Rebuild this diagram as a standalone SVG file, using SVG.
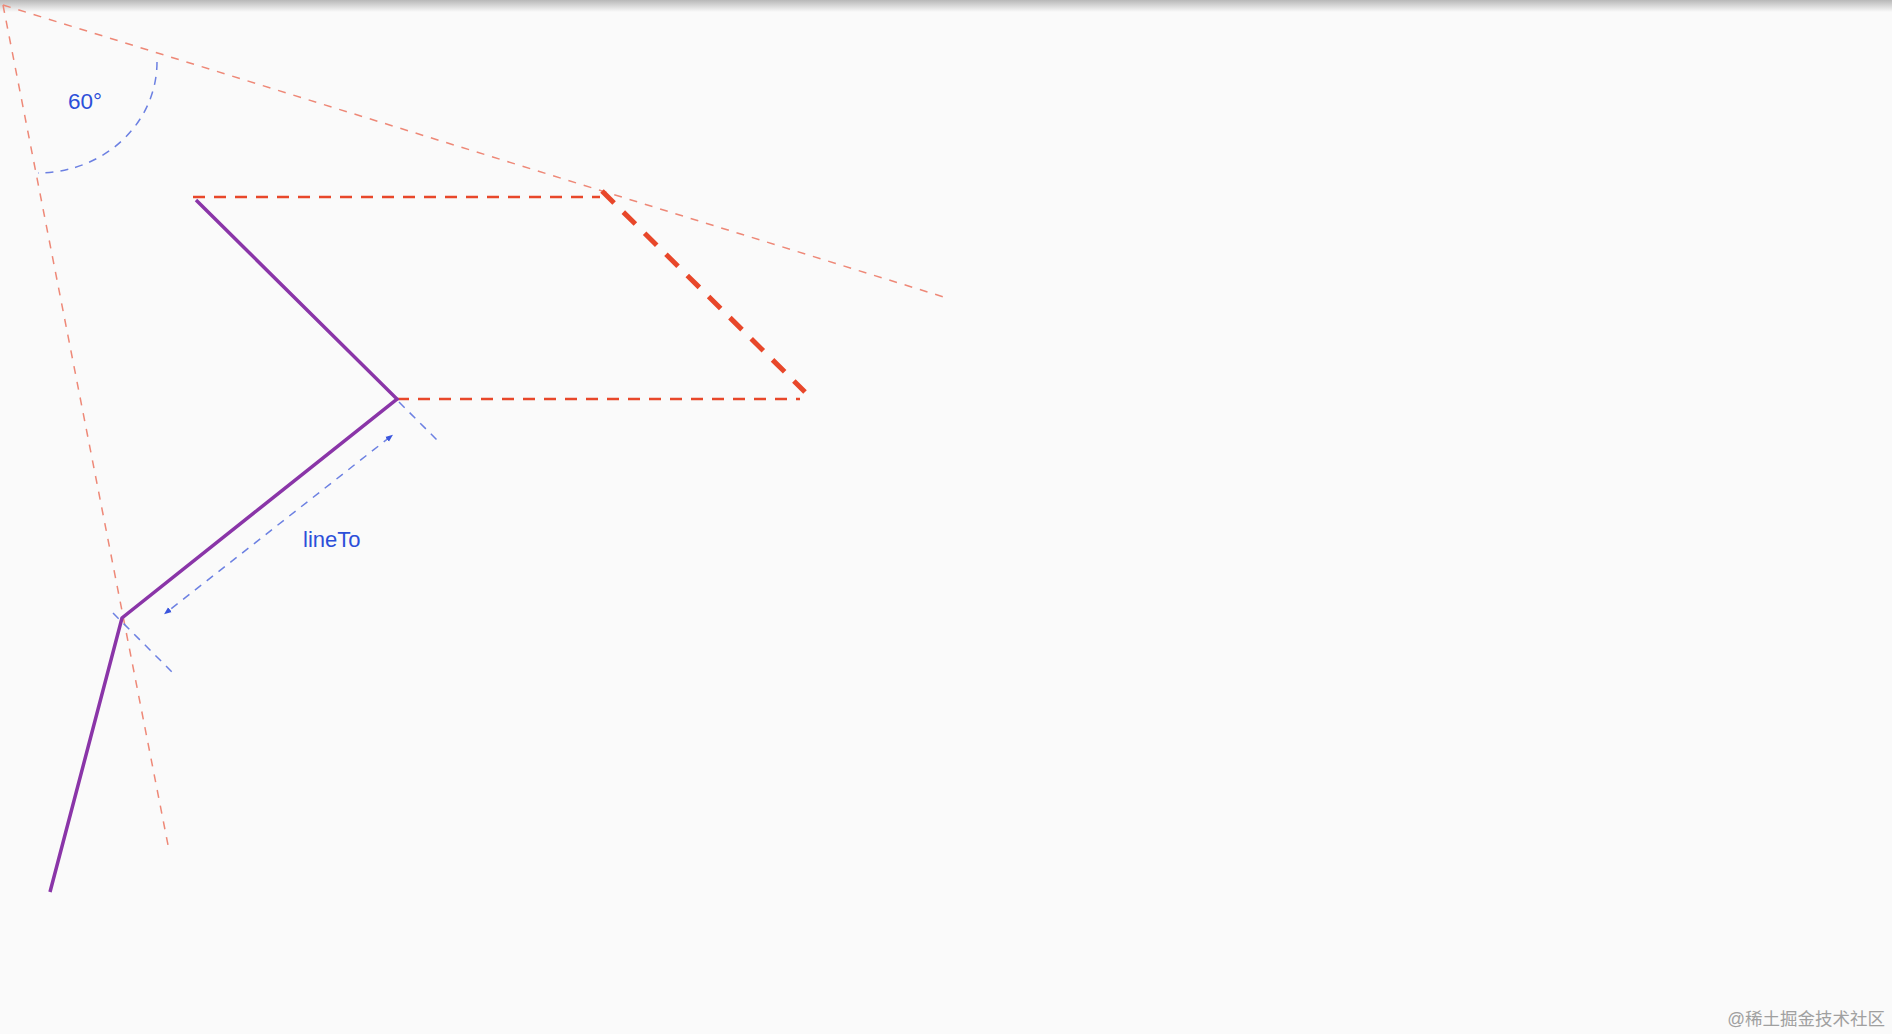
<svg xmlns="http://www.w3.org/2000/svg" width="1892" height="1034" viewBox="0 0 1892 1034">
<defs>
<linearGradient id="shade" x1="0" y1="0" x2="0" y2="1">
<stop offset="0" stop-color="#b8b8b8"/>
<stop offset="1" stop-color="#fafafa"/>
</linearGradient>
<marker id="ah" viewBox="0 0 10 10" refX="5" refY="5" markerWidth="5" markerHeight="5" orient="auto-start-reverse">
<path d="M0,1 L10,5 L0,9 z" fill="#3a55dd"/>
</marker>
<style>
.guide{fill:none;stroke:#ee8877;stroke-width:1.5;stroke-dasharray:8 8}
.red{fill:none;stroke:#e8472a;stroke-width:2.6;stroke-dasharray:12 9}
.redthick{fill:none;stroke:#e8472a;stroke-width:5;stroke-dasharray:17 13}
.blue{fill:none;stroke:#6c80e2;stroke-width:1.5;stroke-dasharray:8 7}
.path{fill:none;stroke:#8a35a8;stroke-width:3.5;stroke-linejoin:miter}
.lbl{font-family:"Liberation Sans",Arial,sans-serif;fill:#2c4fd9}
</style>
</defs>
<rect width="1892" height="1034" fill="#fafafa"/>
<rect width="1892" height="12" fill="url(#shade)"/>
<g id="guides">
<line class="guide" x1="3" y1="5" x2="947" y2="298"/>
<line class="guide" x1="3" y1="5" x2="168" y2="845"/>
<path class="blue" d="M157,62 A119,111 0 0 1 38,173"/>
</g>
<g id="construction">
<line class="red" x1="193" y1="197" x2="600" y2="197"/>
<line class="red" x1="397" y1="399" x2="800" y2="399"/>
<line class="redthick" x1="602" y1="191" x2="805" y2="392"/>
</g>
<g id="connectors">
<line class="blue" x1="399" y1="402" x2="438" y2="441"/>
<line class="blue" x1="113" y1="613" x2="172" y2="672"/>
<line class="blue" x1="390" y1="437" x2="167" y2="612" marker-start="url(#ah)" marker-end="url(#ah)"/>
</g>
<g id="path">
<polyline class="path" points="196,200 397,399 122,618 50,892"/>
</g>
<g id="labels">
<text class="lbl" x="68" y="109" font-size="22.5">60°</text>
<text class="lbl" x="303" y="547" font-size="22">lineTo</text>
<text x="1885" y="1025" font-size="17.5" text-anchor="end" fill="#a0a0a0" font-family="'Liberation Sans','Noto Sans CJK SC',sans-serif">@稀土掘金技术社区</text>
</g>
</svg>
